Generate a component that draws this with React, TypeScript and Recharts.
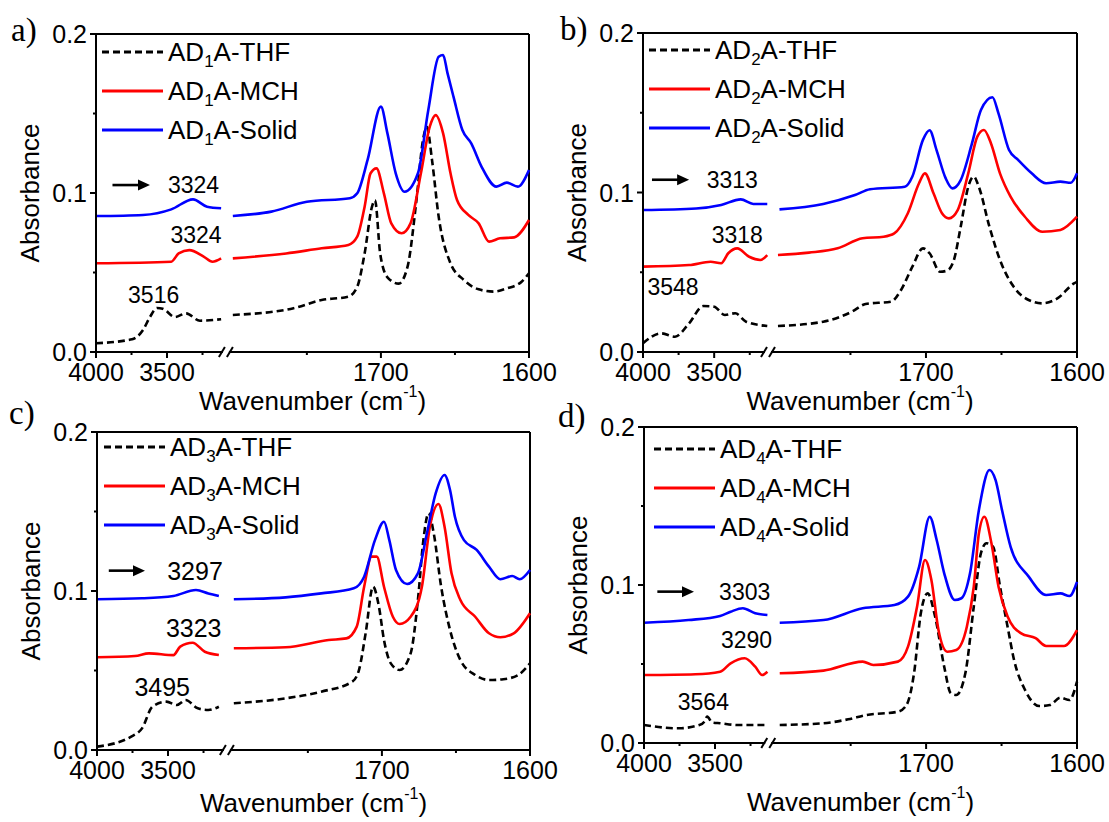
import { Legend, Line, LineChart, ReferenceDot, ReferenceLine, XAxis, YAxis } from 'recharts'

type Pt = [number, number]

// [wavenumber cm-1, absorbance]; high side (4000..3100) then low side (1800..1600)
const thf1: Pt[] = [
  [4000, 0.0055], [3746, 0.008], [3669, 0.0138], [3620, 0.022], [3570, 0.0277], [3530, 0.0272], [3444, 0.022],
  [3366, 0.0243], [3268, 0.0197], [3119, 0.0206],
  [1800, 0.0233], [1759, 0.0275], [1740, 0.0327], [1722, 0.0348], [1716, 0.041], [1711, 0.062], [1706, 0.0915],
  [1704, 0.0955], [1700.5, 0.062], [1695.6, 0.047], [1688, 0.043], [1682, 0.0537], [1676, 0.0956], [1671.6, 0.1333],
  [1669, 0.1417], [1665.5, 0.1208], [1661, 0.0851], [1653, 0.0558], [1644, 0.0453], [1634, 0.0394], [1624, 0.038],
  [1615, 0.04], [1605, 0.0442], [1600, 0.0495]
]
const mch1: Pt[] = [
  [4000, 0.0558], [3470, 0.0568], [3418, 0.062], [3343, 0.0641], [3242, 0.06], [3180, 0.0568], [3119, 0.0589],
  [1800, 0.0589], [1764, 0.062], [1740, 0.0652], [1722, 0.0673], [1716, 0.0725], [1711, 0.0914], [1707, 0.1124],
  [1703, 0.1155], [1698, 0.0998], [1693, 0.0809], [1686, 0.0747], [1680, 0.0809], [1673, 0.1124], [1667, 0.1417],
  [1663, 0.149], [1658, 0.1375], [1653, 0.1124], [1648.6, 0.0956], [1641, 0.0862], [1634, 0.0809], [1627, 0.0694],
  [1619.6, 0.0715], [1610, 0.0721], [1600, 0.083]
]
const solid1: Pt[] = [
  [4000, 0.0855], [3669, 0.0862], [3470, 0.0897], [3317, 0.096], [3218, 0.0914], [3119, 0.0904],
  [1800, 0.0855], [1774, 0.0883], [1750, 0.0945], [1721, 0.0967], [1716, 0.0998], [1709, 0.1208], [1700, 0.1543],
  [1695.6, 0.1375], [1690, 0.1124], [1684, 0.1008], [1675, 0.1124], [1668, 0.1522], [1661, 0.1857], [1658, 0.1868],
  [1655, 0.1752], [1651, 0.1606], [1645, 0.1396], [1639, 0.1312], [1632, 0.1165], [1622, 0.104], [1615, 0.1065],
  [1607.5, 0.104], [1600, 0.1145]
]

const thf2: Pt[] = [
  [4000, 0.0055], [3873, 0.0117], [3775, 0.0096], [3676, 0.018], [3577, 0.0288], [3500, 0.0284], [3425, 0.0232],
  [3352, 0.0243], [3276, 0.019], [3127, 0.0163],
  [1798, 0.0163], [1768, 0.019], [1749, 0.0253], [1740, 0.0301], [1723, 0.0316], [1716.5, 0.0389], [1709, 0.0535],
  [1702, 0.065], [1697.6, 0.0619], [1690.7, 0.0503], [1686, 0.051], [1681.5, 0.0577], [1677, 0.0786], [1672, 0.1036],
  [1668.4, 0.11], [1665, 0.1036], [1658, 0.0786], [1651, 0.0577], [1642, 0.041], [1632, 0.0326], [1623, 0.0305],
  [1613, 0.0336], [1602, 0.043], [1600, 0.044]
]
const mch2: Pt[] = [
  [4000, 0.0535], [3676, 0.0545], [3525, 0.0566], [3451, 0.0556], [3401, 0.0619], [3338, 0.065], [3254, 0.0597],
  [3176, 0.0577], [3127, 0.0608],
  [1798, 0.0608], [1777.5, 0.0623], [1758.5, 0.065], [1742, 0.0713], [1728, 0.0723], [1721, 0.0744], [1712, 0.087],
  [1704.6, 0.1058], [1700.7, 0.112], [1695, 0.0995], [1689.4, 0.087], [1684.8, 0.0838], [1679, 0.089], [1672, 0.112],
  [1666, 0.135], [1661.6, 0.1392], [1657, 0.1309], [1651, 0.112], [1644, 0.0974], [1634.5, 0.0848], [1623, 0.0754],
  [1611, 0.0765], [1600, 0.0848]
]
const solid2: Pt[] = [
  [4000, 0.089], [3627, 0.09], [3451, 0.0922], [3313, 0.0957], [3225, 0.0928], [3127, 0.0928],
  [1797, 0.0894], [1768, 0.0928], [1747, 0.0984], [1737, 0.102], [1714, 0.1036], [1709, 0.11], [1702, 0.133],
  [1697.6, 0.139], [1693, 0.1266], [1687, 0.109], [1682.5, 0.1026], [1677, 0.1078], [1669.5, 0.1309], [1663.6, 0.1517],
  [1656, 0.1597], [1652, 0.1496], [1645, 0.1266], [1639, 0.1204], [1630, 0.112], [1620.5, 0.1058], [1611, 0.1068],
  [1604, 0.1061], [1600, 0.112]
]

const thf3: Pt[] = [
  [4000, 0.0021], [3759, 0.0084], [3683, 0.0136], [3610, 0.0272], [3511, 0.0304], [3437, 0.0283], [3376, 0.0314],
  [3290, 0.0262], [3216, 0.0252], [3142, 0.0272],
  [1800, 0.0294], [1765, 0.0325], [1741, 0.0367], [1720, 0.043], [1715.5, 0.0503], [1711, 0.0734], [1706, 0.1027],
  [1702, 0.0901], [1698.6, 0.0692], [1694, 0.0545], [1688, 0.0503], [1680.6, 0.0608], [1675.7, 0.0943], [1672, 0.132],
  [1668.5, 0.1489], [1665, 0.1363], [1660, 0.1027], [1654, 0.0755], [1647, 0.0566], [1637, 0.0472], [1627.7, 0.044],
  [1618, 0.0445], [1608, 0.0472], [1600, 0.0545]
]
const mch3: Pt[] = [
  [4000, 0.0583], [3733, 0.0591], [3634, 0.0608], [3462, 0.0597], [3414, 0.065], [3327, 0.0675], [3241, 0.0618],
  [3142, 0.0597],
  [1800, 0.064], [1765, 0.0646], [1736, 0.0692], [1724, 0.0702], [1717, 0.0776], [1712, 0.1027], [1707, 0.1216],
  [1703.5, 0.1216], [1698.6, 0.1027], [1692.6, 0.0838], [1688, 0.0792], [1680.6, 0.0838], [1673, 0.1027],
  [1667.6, 0.1404], [1661.8, 0.1547], [1657.7, 0.1404], [1653, 0.1111], [1647, 0.0943], [1637, 0.0838],
  [1627.7, 0.0734], [1620, 0.0709], [1611, 0.0734], [1600, 0.086]
]
const solid3: Pt[] = [
  [4000, 0.0948], [3683, 0.0954], [3462, 0.0969], [3303, 0.1006], [3216, 0.0985], [3142, 0.0969],
  [1800, 0.0948], [1765, 0.096], [1741, 0.0985], [1719, 0.1017], [1712, 0.109], [1704.7, 0.132], [1698.6, 0.1436],
  [1695, 0.132], [1690.5, 0.1132], [1683, 0.1044], [1675.7, 0.1111], [1669.6, 0.1363], [1663.7, 0.1614],
  [1657.7, 0.173], [1654, 0.1635], [1650.7, 0.1467], [1644.6, 0.132], [1636, 0.1258], [1627.7, 0.1153], [1620, 0.1074],
  [1612, 0.1094], [1607, 0.1074], [1600, 0.1132]
]

const thf4: Pt[] = [
  [4000, 0.0114], [3758, 0.0093], [3610, 0.0114], [3575, 0.0135], [3555, 0.0167], [3520, 0.013], [3464, 0.0125],
  [3341, 0.0114], [3143, 0.0114],
  [1797, 0.0114], [1768, 0.0125], [1751.6, 0.015], [1739.7, 0.0177], [1718.7, 0.0198], [1713, 0.024], [1708, 0.0441],
  [1703.5, 0.0821], [1699, 0.0947], [1694, 0.0799], [1688, 0.0483], [1683.6, 0.0315], [1680, 0.0304], [1674, 0.0441],
  [1668.4, 0.0863], [1663.7, 0.12], [1660, 0.1264], [1655.6, 0.1242], [1651, 0.0989], [1646, 0.0736], [1641.7, 0.0525],
  [1634.4, 0.0335], [1625, 0.0234], [1618, 0.024], [1611, 0.0287], [1605, 0.0272], [1600, 0.0388]
]
const mch4: Pt[] = [
  [4000, 0.043], [3638, 0.0435], [3464, 0.0451], [3390, 0.0504], [3291, 0.0536], [3217, 0.0483], [3168, 0.043],
  [3131, 0.0451],
  [1797, 0.0441], [1768, 0.0458], [1742, 0.0515], [1735, 0.0494], [1718.7, 0.0515], [1712, 0.061], [1706, 0.0863],
  [1700.7, 0.1158], [1696.5, 0.1032], [1691.8, 0.0715], [1686, 0.0578], [1680, 0.0589], [1673, 0.0736],
  [1668.4, 0.0989], [1665, 0.1327], [1661.4, 0.1432], [1656.7, 0.1264], [1652, 0.0989], [1646, 0.08], [1637, 0.0694],
  [1627.4, 0.0663], [1620.5, 0.0614], [1608.7, 0.0614], [1600, 0.0715]
]
const solid4: Pt[] = [
  [4000, 0.0761], [3687, 0.0778], [3464, 0.0804], [3390, 0.0831], [3304, 0.0853], [3217, 0.0821], [3131, 0.081],
  [1797, 0.0761], [1768, 0.0778], [1742, 0.0853], [1721, 0.0873], [1712, 0.0926], [1704.6, 0.1116], [1697.6, 0.1432],
  [1693, 0.1285], [1688, 0.1074], [1681, 0.0905], [1676.6, 0.0916], [1670.9, 0.1074], [1665, 0.1475], [1658, 0.1728],
  [1654, 0.1665], [1649.7, 0.1475], [1644, 0.1242], [1632, 0.1053], [1620.5, 0.0937], [1611, 0.0947], [1605, 0.093],
  [1600, 0.102]
]

// peak labels: [wavenumber, absorbance, text]
const notes1: [number, number, string][] = [[3313, 0.105, '3324'], [3296, 0.0736, '3324'], [3594, 0.0358, '3516']]
const notes2: [number, number, string][] = [[3373, 0.108, '3313'], [3338, 0.0734, '3318'], [3789, 0.041, '3548']]
const notes3: [number, number, string][] = [[3310, 0.1128, '3297'], [3319, 0.0765, '3323'], [3541, 0.0394, '3495']]
const notes4: [number, number, string][] = [[3291, 0.0958, '3303'], [3278, 0.0652, '3290'], [3582, 0.0261, '3564']]

// arrows: [from wavenumber, to wavenumber, absorbance]
const arrow1: [number, number, number] = [3884, 3620, 0.105]
const arrow2: [number, number, number] = [3937, 3676, 0.108]
const arrow3: [number, number, number] = [3917, 3662, 0.1128]
const arrow4: [number, number, number] = [3906, 3648, 0.0958]

const majorX = [4000, 3500, 1700, 1600]
const minorX = [3750, 3250, 1750, 1650]
const majorY = [0, 0.1, 0.2]
const minorY = [0.05, 0.15]

const seriesOrder = ['THF', 'MCH', 'Solid']
const seriesStyle: Record<string, { color: string; dash?: string }> = {
  THF: { color: '#000000', dash: '7 4' },
  MCH: { color: '#ff0000' },
  Solid: { color: '#0000ff' }
}

const font = '"Liberation Sans", Arial, sans-serif'
const Y_AXIS_W = 60
const X_AXIS_H = 30

// broken axis: 4000..~3050 on the left part, 1800..1600 on the right part
const LEFT_PER_UNIT = 0.000328

function toAxis(w: number, split: number) {
  return w > 2500 ? (4000 - w) * LEFT_PER_UNIT : split + ((1800 - w) / 200) * (1 - split)
}

function buildRows(points: Pt[], split: number) {
  const rows: { pos: number; value: number | null }[] = []
  points.forEach(([w, a], i) => {
    const prev = points[i - 1]
    if (prev && prev[0] > 2500 && w <= 2500) rows.push({ pos: split - 0.01, value: null })
    rows.push({ pos: toAxis(w, split), value: a })
  })
  return rows
}

const panels = [
  {
    id: 'a', n: 1, thf: thf1, mch: mch1, solid: solid1, notes: notes1, arrow: arrow1, split: 0.316, noteSize: 23,
    box: { left: 0, top: 0, width: 580, height: 420 },
    plot: { top: 34, right: 51, bottom: 68, left: 96 },
    legend: { left: 102, top: 33 }, letter: { left: 11, top: 14 }, titleGap: 49
  },
  {
    id: 'b', n: 2, thf: thf2, mch: mch2, solid: solid2, notes: notes2, arrow: arrow2, split: 0.304, noteSize: 23,
    box: { left: 555, top: 0, width: 554, height: 420 },
    plot: { top: 33, right: 32, bottom: 68, left: 88 },
    legend: { left: 94, top: 31 }, letter: { left: 5, top: 13 }, titleGap: 49
  },
  {
    id: 'c', n: 3, thf: thf3, mch: mch3, solid: solid3, notes: notes3, arrow: arrow3, split: 0.316, noteSize: 25,
    box: { left: 0, top: 400, width: 580, height: 422 },
    plot: { top: 32, right: 50, bottom: 72, left: 97 },
    legend: { left: 104, top: 28 }, letter: { left: 9, top: -3 }, titleGap: 53
  },
  {
    id: 'd', n: 4, thf: thf4, mch: mch4, solid: solid4, notes: notes4, arrow: arrow4, split: 0.303, noteSize: 23,
    box: { left: 555, top: 400, width: 554, height: 422 },
    plot: { top: 27, right: 32, bottom: 79, left: 89 },
    legend: { left: 99, top: 30 }, letter: { left: 3, top: 0 }, titleGap: 59
  }
]

export default function App() {
  return (
    <div style={{ position: 'absolute', left: 0, top: 0, width: 1109, height: 822, background: '#fff', fontFamily: font, color: '#000' }}>
      {panels.map(p => <Panel key={p.id} p={p} />)}
    </div>
  )
}

function Panel({ p }: { p: (typeof panels)[number] }) {
  const { split } = p
  const rowsByName: Record<string, ReturnType<typeof buildRows>> = {
    THF: buildRows(p.thf, split),
    MCH: buildRows(p.mch, split),
    Solid: buildRows(p.solid, split)
  }
  const xTicks = [...majorX, ...minorX].map(w => toAxis(w, split)).sort((a, b) => a - b)
  const margin = {
    top: p.plot.top,
    right: p.plot.right,
    bottom: p.plot.bottom - X_AXIS_H,
    left: p.plot.left - Y_AXIS_W
  }

  return (
    <div style={{ position: 'absolute', left: p.box.left, top: p.box.top }}>
      <LineChart width={p.box.width} height={p.box.height} margin={margin}>
        <XAxis
          type="number"
          dataKey="pos"
          domain={[0, 1]}
          ticks={xTicks}
          interval={0}
          height={X_AXIS_H}
          tickSize={0}
          tickMargin={0}
          tickLine={false}
          axisLine={{ stroke: '#000', strokeWidth: 2 }}
          tick={(props: any) => <XTick {...props} split={split} />}
          label={(props: any) => <XTitle {...props} gap={p.titleGap} />}
        />
        <YAxis
          type="number"
          domain={[0, 0.2]}
          ticks={[...majorY, ...minorY].sort((a, b) => a - b)}
          interval={0}
          width={Y_AXIS_W}
          tickSize={0}
          tickMargin={0}
          tickLine={false}
          axisLine={{ stroke: '#000', strokeWidth: 2 }}
          tick={(props: any) => <YTick {...props} />}
          label={(props: any) => <YTitle {...props} />}
        />
        <ReferenceLine y={0.2} stroke="#000" strokeWidth={2} ifOverflow="visible" />
        <ReferenceLine x={1} stroke="#000" strokeWidth={2} ifOverflow="visible" />
        {seriesOrder.map(name => (
          <Line
            key={name}
            data={rowsByName[name]}
            dataKey="value"
            name={name}
            type="monotone"
            stroke={seriesStyle[name].color}
            strokeDasharray={seriesStyle[name].dash}
            strokeWidth={2.6}
            dot={false}
            activeDot={false}
            isAnimationActive={false}
          />
        ))}
        <ReferenceDot
          x={split - 0.016}
          y={0}
          ifOverflow="visible"
          shape={(d: any) => (
            <g>
              <rect x={d.cx - 3} y={d.cy - 3} width={6} height={6} fill="#fff" />
              <line x1={d.cx - 7} y1={d.cy + 5} x2={d.cx - 1} y2={d.cy - 5} stroke="#000" strokeWidth={2} />
              <line x1={d.cx + 1} y1={d.cy + 5} x2={d.cx + 7} y2={d.cy - 5} stroke="#000" strokeWidth={2} />
            </g>
          )}
        />
        <ReferenceLine
          segment={[
            { x: toAxis(p.arrow[0], split), y: p.arrow[2] },
            { x: toAxis(p.arrow[1], split), y: p.arrow[2] }
          ]}
          ifOverflow="visible"
          shape={(l: any) => (
            <g>
              <line x1={l.x1} y1={l.y1} x2={l.x2 - 9} y2={l.y2} stroke="#000" strokeWidth={2.6} />
              <polygon points={`${l.x2},${l.y2} ${l.x2 - 12},${l.y2 - 5.5} ${l.x2 - 12},${l.y2 + 5.5}`} fill="#000" />
            </g>
          )}
        />
        {p.notes.map(([w, a, text]) => (
          <ReferenceDot
            key={text + w}
            x={toAxis(w, split)}
            y={a}
            ifOverflow="visible"
            shape={(d: any) => (
              <text x={d.cx} y={d.cy} textAnchor="middle" dominantBaseline="central" fontSize={p.noteSize} fill="#000">
                {text}
              </text>
            )}
          />
        ))}
        <Legend
          layout="vertical"
          align="center"
          verticalAlign="middle"
          wrapperStyle={{ left: p.legend.left, top: p.legend.top, width: 'auto', height: 'auto' }}
          content={() => <SeriesLegend n={p.n} />}
        />
      </LineChart>
      <div
        style={{
          position: 'absolute',
          left: p.letter.left,
          top: p.letter.top,
          fontFamily: '"Liberation Serif", "Times New Roman", serif',
          fontSize: 33,
          lineHeight: 1
        }}
      >
        {p.id})
      </div>
    </div>
  )
}

function XTick({ x, y, payload, split }: any) {
  const label = majorX.find(w => Math.abs(toAxis(w, split) - payload.value) < 1e-6)
  const major = label !== undefined
  return (
    <g>
      <line x1={x} y1={y} x2={x} y2={y + (major ? 6 : 3)} stroke="#000" strokeWidth={2} />
      {major && (
        <text x={x} y={y + 20} textAnchor="middle" dominantBaseline="central" fontSize={25} fill="#000">
          {label}
        </text>
      )}
    </g>
  )
}

function YTick({ x, y, payload }: any) {
  const major = majorY.some(v => Math.abs(v - payload.value) < 1e-9)
  return (
    <g>
      <line x1={x - (major ? 6 : 3)} y1={y} x2={x} y2={y} stroke="#000" strokeWidth={2} />
      {major && (
        <text x={x - 9} y={y} textAnchor="end" dominantBaseline="central" fontSize={25} fill="#000">
          {payload.value.toFixed(1)}
        </text>
      )}
    </g>
  )
}

function XTitle({ viewBox, gap }: any) {
  const cx = viewBox.x + viewBox.width / 2
  const cy = viewBox.y + gap
  return (
    <text x={cx} y={cy} textAnchor="middle" dominantBaseline="central" fontSize={26} fill="#000">
      Wavenumber (cm
      <tspan dy={-10} fontSize={16}>-1</tspan>
      <tspan dy={10}>)</tspan>
    </text>
  )
}

function YTitle({ viewBox }: any) {
  const cx = viewBox.x + viewBox.width - 66
  const cy = viewBox.y + viewBox.height / 2
  return (
    <text
      x={cx}
      y={cy}
      transform={`rotate(-90 ${cx} ${cy})`}
      textAnchor="middle"
      dominantBaseline="central"
      fontSize={26}
      fill="#000"
    >
      Absorbance
    </text>
  )
}

function SeriesLegend({ n }: { n: number }) {
  return (
    <div style={{ fontSize: 26, fontFamily: font }}>
      {seriesOrder.map(name => {
        const st = seriesStyle[name]
        return (
          <div key={name} style={{ display: 'flex', alignItems: 'center', height: 38.7 }}>
            <svg width={61} height={6}>
              <line x1={0} y1={3} x2={61} y2={3} stroke={st.color} strokeWidth={3} strokeDasharray={st.dash} />
            </svg>
            <span style={{ marginLeft: 5, whiteSpace: 'nowrap', lineHeight: 1 }}>
              AD<sub style={{ fontSize: 17, lineHeight: 0 }}>{n}</sub>A-{name}
            </span>
          </div>
        )
      })}
    </div>
  )
}
